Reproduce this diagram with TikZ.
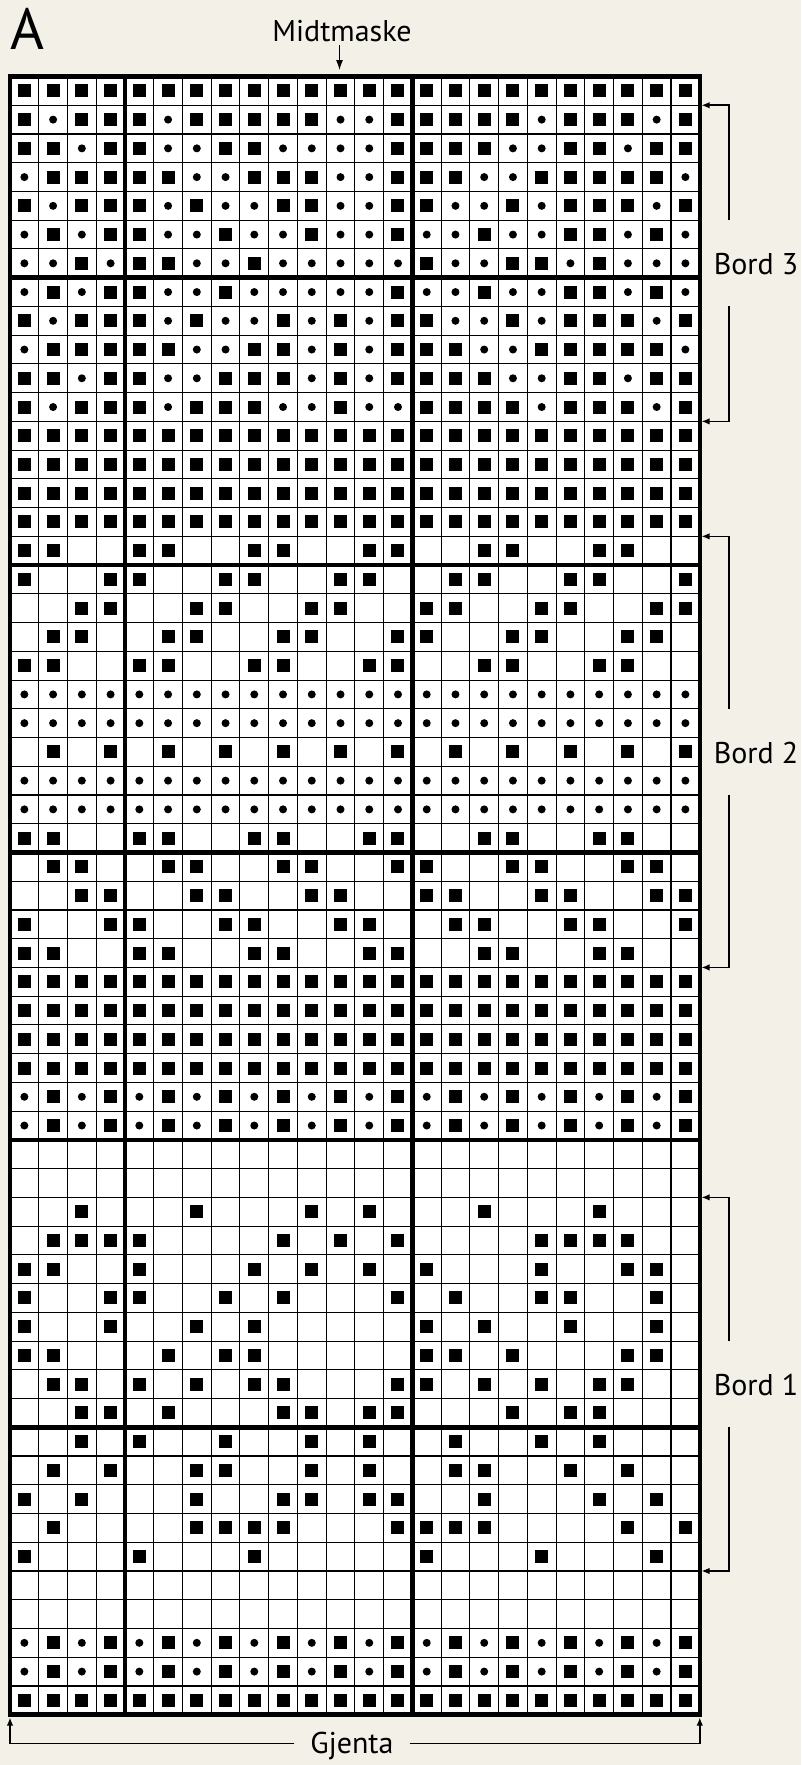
\documentclass[tikz,border=0pt]{standalone}
\usepackage{fontspec}
\setmainfont{PT Sans}
\usetikzlibrary{arrows.meta}
\definecolor{bgbeige}{RGB}{243,240,232}
\def\cs{28.74}
\newcommand\chartrow[2]{\def\currow{#1}\def\curcol{0}\parsecells#2\relax}
\def\parsecells#1{%
  \ifx#1\relax\let\nextcell\relax\else
    \pgfmathtruncatemacro\curcol{\curcol+1}%
    \pgfmathsetmacro\cellx{10+(\curcol-0.5)*\cs}%
    \pgfmathsetmacro\celly{76.5+(\currow-0.5)*\cs}%
    \if#1X\fill (\cellx-6.5,\celly-6.5) rectangle ++(13,13);\fi
    \if#1o\fill (\cellx,\celly) circle (4pt);\fi
    \let\nextcell\parsecells
  \fi\nextcell}
\tikzset{
  thinline/.style={line width=1.1pt},
  thickline/.style={line width=4.5pt},
  bracket/.style={line width=1.5pt,-{Latex[length=8pt,width=6.5pt]}},
  bracketline/.style={line width=1.5pt},
  lbl/.style={font=\fontsize{30}{34}\selectfont,inner sep=0pt}
}
\newcommand\bordbracket[4]{% #1 name, #2 top y, #3 bottom y, #4 label
  \pgfmathsetmacro\bmid{(#2+#3)/2}
  \coordinate (#1ta) at (701.5,#2);
  \coordinate (#1tb) at (729,#2);
  \coordinate (#1tc) at (729,\bmid-43);
  \coordinate (#1ba) at (701.5,#3);
  \coordinate (#1bb) at (729,#3);
  \coordinate (#1bc) at (729,\bmid+43);
  \draw[bracket] (#1tc) -- (#1tb) -- (#1ta);
  \draw[bracket] (#1bc) -- (#1bb) -- (#1ba);
  \node[lbl,anchor=base] (#1lbl) at (756,\bmid+11.5) {#4};
}
\begin{document}
\begin{tikzpicture}[x=1pt,y=-1pt]
\fill[bgbeige] (0,0) rectangle (801,1765);
\useasboundingbox (0,0) rectangle (801,1765);
% grid
\fill[white] (10,76.5) rectangle (699.76,1714.68);
\foreach \i in {1,...,23} \draw[thinline] (10+\i*\cs,76.5) -- (10+\i*\cs,1714.68);
\foreach \j in {1,...,56} \draw[thinline] (10,76.5+\j*\cs) -- (699.76,76.5+\j*\cs);
\foreach \i in {4,14} \draw[thickline] (10+\i*\cs,76.5) -- (10+\i*\cs,1714.68);
\foreach \j in {7,17,27,37,47} \draw[thickline] (10,76.5+\j*\cs) -- (699.76,76.5+\j*\cs);
\draw[thickline] (10,76.5) rectangle (699.76,1714.68);
% symbols
\chartrow{1}{XXXXXXXXXXXXXXXXXXXXXXXX}
\chartrow{2}{XoXXXoXXXXXooXXXXXoXXXoX}
\chartrow{3}{XXoXXooXXooooXXXXooXXoXX}
\chartrow{4}{oXXXXXooXXXooXXXooXXXXXo}
\chartrow{5}{XoXXXoXooXXooXXooXoXXXoX}
\chartrow{6}{oXoXXooXooXooXooXooXXoXo}
\chartrow{7}{ooXoXXooXoooooXooXXoXooo}
\chartrow{8}{oXoXXooXoooooXooXooXXoXo}
\chartrow{9}{XoXXXoXooXoXoXXooXoXXXoX}
\chartrow{10}{oXXXXXooXXoXoXXXooXXXXXo}
\chartrow{11}{XXoXXooXXXoXoXXXXooXXoXX}
\chartrow{12}{XoXXXoXXXooXooXXXXoXXXoX}
\chartrow{13}{XXXXXXXXXXXXXXXXXXXXXXXX}
\chartrow{14}{XXXXXXXXXXXXXXXXXXXXXXXX}
\chartrow{15}{XXXXXXXXXXXXXXXXXXXXXXXX}
\chartrow{16}{XXXXXXXXXXXXXXXXXXXXXXXX}
\chartrow{17}{XX..XX..XX..XX..XX..XX..}
\chartrow{18}{X..XX..XX..XX..XX..XX..X}
\chartrow{19}{..XX..XX..XX..XX..XX..XX}
\chartrow{20}{.XX..XX..XX..XX..XX..XX.}
\chartrow{21}{XX..XX..XX..XX..XX..XX..}
\chartrow{22}{oooooooooooooooooooooooo}
\chartrow{23}{oooooooooooooooooooooooo}
\chartrow{24}{.X.X.X.X.X.X.X.X.X.X.X.X}
\chartrow{25}{oooooooooooooooooooooooo}
\chartrow{26}{oooooooooooooooooooooooo}
\chartrow{27}{XX..XX..XX..XX..XX..XX..}
\chartrow{28}{.XX..XX..XX..XX..XX..XX.}
\chartrow{29}{..XX..XX..XX..XX..XX..XX}
\chartrow{30}{X..XX..XX..XX..XX..XX..X}
\chartrow{31}{XX..XX..XX..XX..XX..XX..}
\chartrow{32}{XXXXXXXXXXXXXXXXXXXXXXXX}
\chartrow{33}{XXXXXXXXXXXXXXXXXXXXXXXX}
\chartrow{34}{XXXXXXXXXXXXXXXXXXXXXXXX}
\chartrow{35}{XXXXXXXXXXXXXXXXXXXXXXXX}
\chartrow{36}{oXoXoXoXoXoXoXoXoXoXoXoX}
\chartrow{37}{oXoXoXoXoXoXoXoXoXoXoXoX}
\chartrow{40}{..X...X...X.X...X...X...}
\chartrow{41}{.XXXX....X.X.X....XXXX..}
\chartrow{42}{XX..X...X.X.X.X...X..XX.}
\chartrow{43}{X..XX..X.X...X.X..XX..X.}
\chartrow{44}{X..X..X.X.....X.X..X..X.}
\chartrow{45}{XX...X.XX.....XX.X...XX.}
\chartrow{46}{.XX.X.X.XX...XX.X.X.XX..}
\chartrow{47}{..XX.X...XX.XX...X.XX...}
\chartrow{48}{..X.X..X..X.X..X..X.X...}
\chartrow{49}{.X.X..XX..X.X..XX..X.X..}
\chartrow{50}{X.X...X..XX.XX..X...X.X.}
\chartrow{51}{.X....XXXX...XXXX....X.X}
\chartrow{52}{X...X...X.....X...X...X.}
\chartrow{55}{oXoXoXoXoXoXoXoXoXoXoXoX}
\chartrow{56}{oXoXoXoXoXoXoXoXoXoXoXoX}
\chartrow{57}{XXXXXXXXXXXXXXXXXXXXXXXX}
% title and labels
\node[inner sep=0pt,anchor=base west,font=\fontsize{58}{60}\selectfont] (title) at (10,49.3) {A};
\node[lbl,anchor=base] (mid) at (342,41.7) {Midtmaske};
\coordinate (midtip) at (339.5,70);
\draw[line width=1.1pt,-{Latex[length=10pt,width=7pt]}] (339.5,45) -- (midtip);
\bordbracket{b3}{105.24}{421.38}{Bord 3}
\bordbracket{b2}{536.34}{967.44}{Bord 2}
\bordbracket{b1}{1197.36}{1570.98}{Bord 1}
% Gjenta
\node[lbl,anchor=base] (gj) at (352,1753) {Gjenta};
\coordinate (gl0) at (10,1743.3);
\coordinate (gl1) at (10,1717.5);
\coordinate (gr0) at (699.76,1743.3);
\coordinate (gr1) at (699.76,1717.5);
\draw[bracket] (gj.west |- gl0) ++(-16,0) -- (gl0) -- (gl1);
\draw[bracket] (gj.east |- gr0) ++(16,0) -- (gr0) -- (gr1);
\end{tikzpicture}
\end{document}
